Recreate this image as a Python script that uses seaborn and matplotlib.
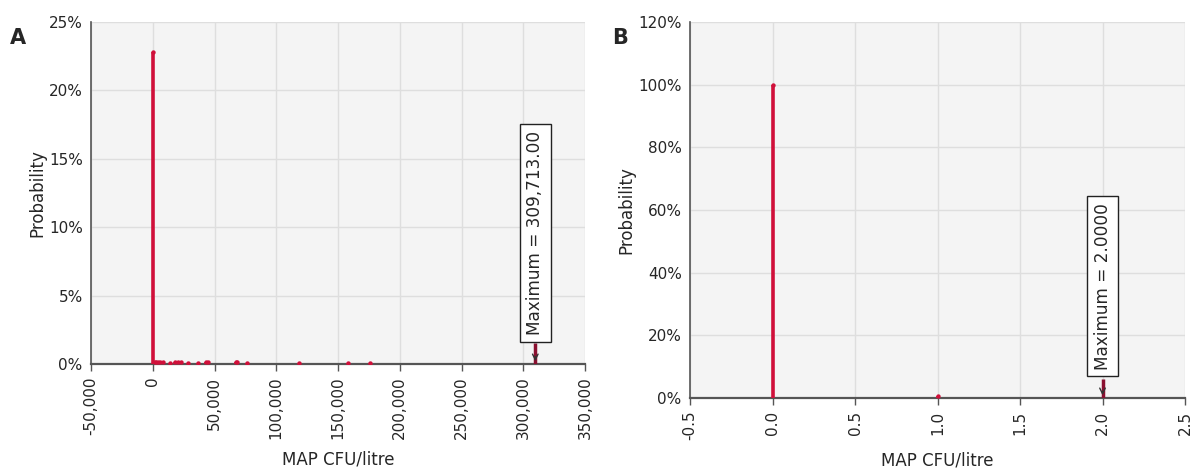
import matplotlib
matplotlib.use("Agg")
import matplotlib.pyplot as plt
import seaborn as sns
import pandas as pd
from matplotlib.ticker import FuncFormatter

# panel A: discrete probabilities (percent) at MAP CFU/litre values
a_values = [0, 1500, 3000, 4500, 6000, 8000, 14000, 18000, 20500, 22500,
            28800, 36900, 43000, 45000, 67000, 68500, 76000, 118700, 158400, 175900]
a_probs = [22.8, 0.15, 0.15, 0.15, 0.15, 0.12, 0.1, 0.12, 0.12, 0.12,
           0.1, 0.1, 0.12, 0.12, 0.12, 0.12, 0.1, 0.1, 0.1, 0.1]
a_max = 309713.00
a_xticks = [-50000, 0, 50000, 100000, 150000, 200000, 250000, 300000, 350000]
a_yticks = [0, 5, 10, 15, 20, 25]

# panel B
b_values = [0, 1]
b_probs = [100, 0.6]
b_max = 2.0
b_xticks = [-0.5, 0.0, 0.5, 1.0, 1.5, 2.0, 2.5]
b_yticks = [0, 20, 40, 60, 80, 100, 120]

red = "#d0103a"
sns.set_style("whitegrid", {"axes.facecolor": "#f4f4f4", "grid.color": "#dedede",
                            "axes.edgecolor": "#555555"})
plt.rcParams['font.family'] = ['DejaVu Sans']

fig = plt.figure(figsize=(11.93, 4.68), dpi=100)
ax_a = fig.add_axes([0.0763, 0.2222, 0.4141, 0.7308])
ax_b = fig.add_axes([0.5784, 0.1496, 0.4149, 0.8034])


def draw(ax, values, probs, xticks, yticks, xfmt, mx, box_lo, box_hi, label, fs):
    df = pd.DataFrame({"x": values, "p": probs})
    ax.vlines(df["x"], 0, df["p"], color=red, linewidth=2.6, zorder=3)
    sns.scatterplot(data=df, x="x", y="p", ax=ax, color=red, s=10,
                    edgecolor=red, linewidth=0, zorder=4, legend=False)
    ax.set_xlim(xticks[0], xticks[-1])
    ax.set_ylim(yticks[0], yticks[-1])
    ax.set_xticks(xticks)
    ax.set_yticks(yticks)
    ax.xaxis.set_major_formatter(FuncFormatter(xfmt))
    ax.yaxis.set_major_formatter(FuncFormatter(lambda v, p: f"{v:.0f}%"))
    ax.tick_params(axis="x", rotation=90, labelsize=11, length=5, width=1,
                   color="#555555", bottom=True, pad=4)
    ax.tick_params(axis="y", labelsize=11, length=0, pad=6)
    for s in ["top", "right"]:
        ax.spines[s].set_visible(False)
    ax.spines["left"].set_linewidth(1.2)
    ax.spines["bottom"].set_linewidth(1.6)
    ax.grid(True, linewidth=1)
    ax.set_xlabel("MAP CFU/litre", fontsize=12, labelpad=8)
    ax.set_ylabel("Probability", fontsize=12, labelpad=2)
    # maximum marker
    ax.vlines([mx], 0, box_lo, color="#8a1030", linewidth=2.5, zorder=5)
    ax.annotate("", xy=(mx, 0), xytext=(mx, box_lo * 0.5),
                arrowprops=dict(arrowstyle="->", color="#333333", lw=1), zorder=6)
    ax.text(mx, (box_lo + box_hi) / 2, label, rotation=90, ha="center", va="center",
            fontsize=fs, zorder=7,
            bbox=dict(boxstyle="square,pad=0.4", facecolor="white", edgecolor="#222222",
                      linewidth=1))


draw(ax_a, a_values, a_probs, a_xticks, a_yticks, lambda v, p: f"{v:,.0f}",
     a_max, 1.5, 17.7, f"Maximum = {a_max:,.2f}", 12.2)
draw(ax_b, b_values, b_probs, b_xticks, b_yticks, lambda v, p: f"{v:.1f}",
     b_max, 6.0, 65.4, f"Maximum = {b_max:.4f}", 12.2)

fig.text(10 / 1193, 1 - 38 / 468, "A", fontsize=15, fontweight="bold", va="center")
fig.text(612 / 1193, 1 - 38 / 468, "B", fontsize=15, fontweight="bold", va="center")

fig.savefig("out.png", dpi=100)
